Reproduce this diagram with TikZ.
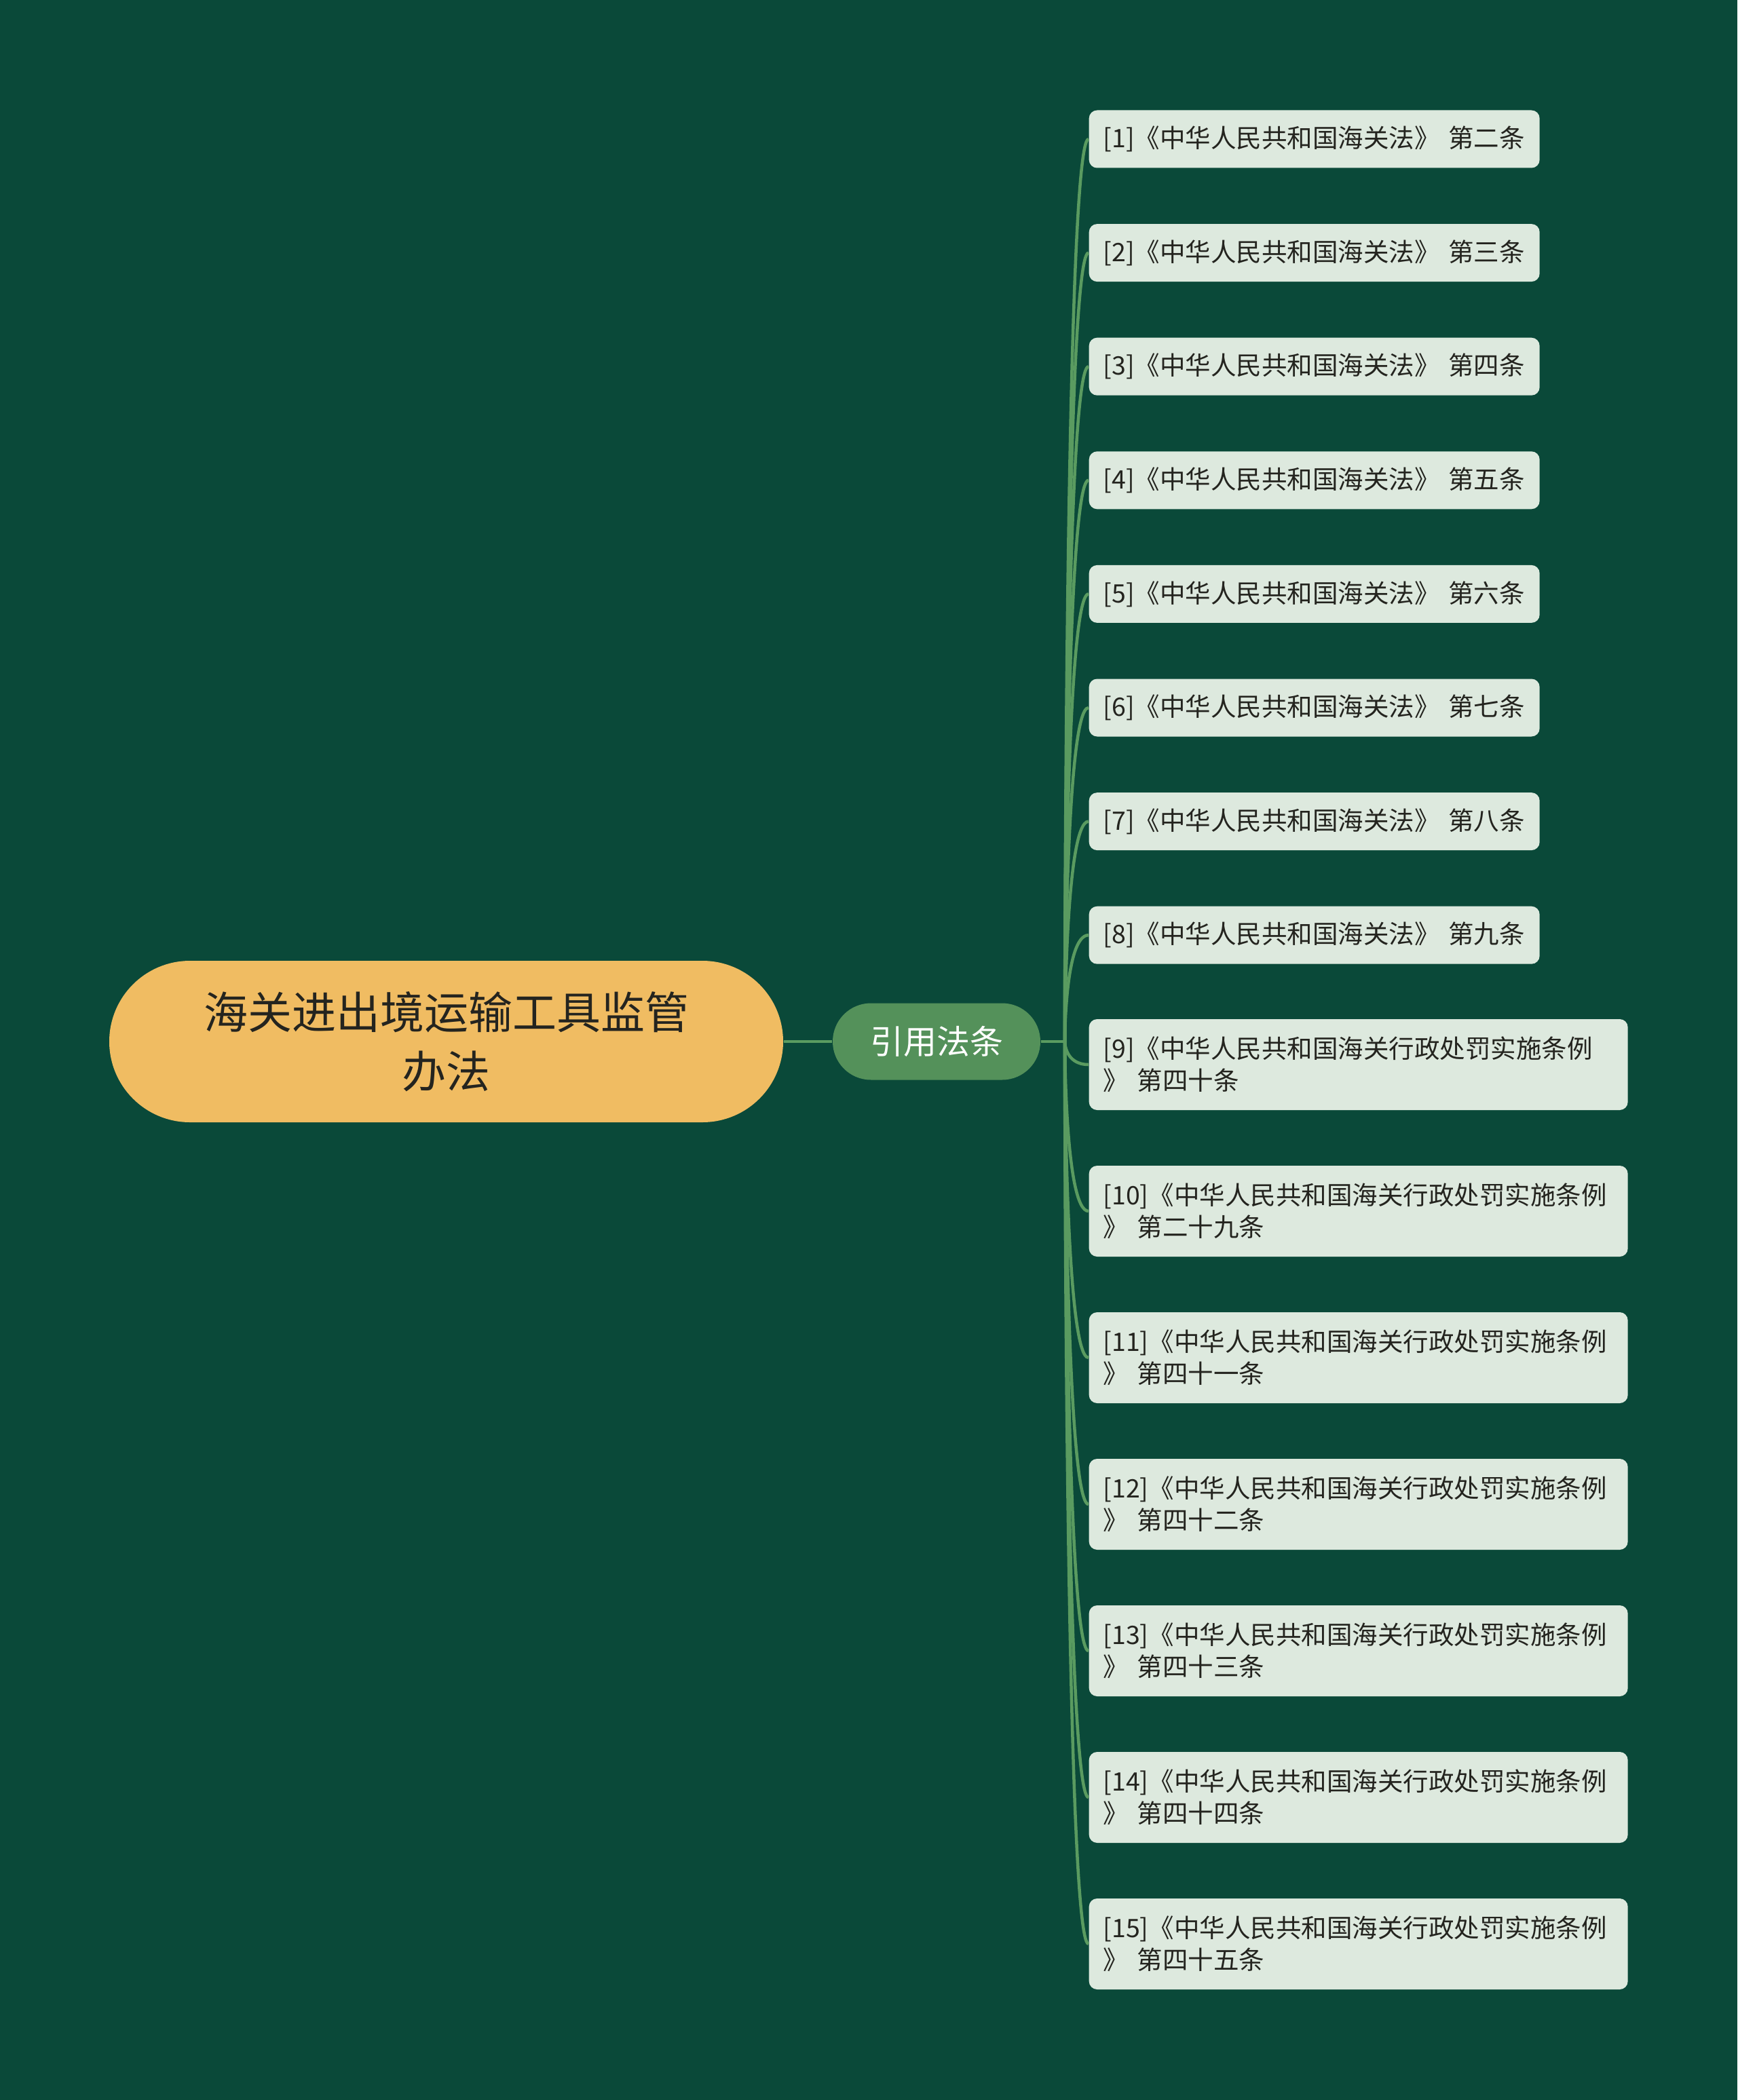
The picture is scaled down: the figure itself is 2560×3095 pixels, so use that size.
\documentclass[tikz,border=0pt]{standalone}
\usepackage{fontspec}
\newfontfamily\cjk{Noto Sans CJK SC}
\definecolor{bgdark}{HTML}{0A4939}
\definecolor{rootfill}{HTML}{F0BC62}
\definecolor{midfill}{HTML}{54915A}
\definecolor{leaffill}{HTML}{DDE9DE}
\definecolor{linkgreen}{HTML}{5A9B60}
\definecolor{darktext}{HTML}{24241F}
\tikzset{
  rootbox/.style={fill=rootfill,text=darktext,rounded corners=35.7pt,minimum width=297.9pt,minimum height=71.4pt,align=center,font=\cjk\fontsize{19.5}{26.1}\selectfont},
  midbox/.style={fill=midfill,text=white,rounded corners=16.9pt,minimum width=91.8pt,minimum height=33.9pt,font=\cjk\fontsize{14.7}{18}\selectfont},
  leaf/.style={fill=leaffill,text=darktext,rounded corners=3.6pt,anchor=west,align=left,text width=186.6pt,inner xsep=6.3pt,inner ysep=0pt,minimum height=25.5pt,font=\cjk\fontsize{11.25}{14.2}\selectfont},
  longleaf/.style={leaf,text width=225.6pt,minimum height=40.2pt},
  link/.style={draw=linkgreen,line width=1.35pt}
}
\begin{document}
\begin{tikzpicture}[x=0.3pt,y=-0.3pt]
\def\tx{1569}
\def\lx{1604}
\fill[bgdark] (0,0) rectangle (2560,3095);
\useasboundingbox (0,0) rectangle (2560,3095);
% root and middle
\node[rootbox] (root) at (657.5,1535) {海关进出境运输工具监管\\办法};
\node[midbox] (cite) at (1380,1535) {引用法条};
\coordinate (trunk) at (\tx,1535);
% leaves
\node[leaf] (l1) at (\lx,205) {[1]《中华人民共和国海关法》~第二条};
\node[leaf] (l2) at (\lx,372.6) {[2]《中华人民共和国海关法》~第三条};
\node[leaf] (l3) at (\lx,540.2) {[3]《中华人民共和国海关法》~第四条};
\node[leaf] (l4) at (\lx,707.8) {[4]《中华人民共和国海关法》~第五条};
\node[leaf] (l5) at (\lx,875.4) {[5]《中华人民共和国海关法》~第六条};
\node[leaf] (l6) at (\lx,1043) {[6]《中华人民共和国海关法》~第七条};
\node[leaf] (l7) at (\lx,1210.6) {[7]《中华人民共和国海关法》~第八条};
\node[leaf] (l8) at (\lx,1378.2) {[8]《中华人民共和国海关法》~第九条};
\node[longleaf] (l9) at (\lx,1569) {[9]《中华人民共和国海关行政处罚实施条例\\》 第四十条};
\node[longleaf] (l10) at (\lx,1785) {[10]《中华人民共和国海关行政处罚实施条例\\》 第二十九条};
\node[longleaf] (l11) at (\lx,2001) {[11]《中华人民共和国海关行政处罚实施条例\\》 第四十一条};
\node[longleaf] (l12) at (\lx,2217) {[12]《中华人民共和国海关行政处罚实施条例\\》 第四十二条};
\node[longleaf] (l13) at (\lx,2433) {[13]《中华人民共和国海关行政处罚实施条例\\》 第四十三条};
\node[longleaf] (l14) at (\lx,2649) {[14]《中华人民共和国海关行政处罚实施条例\\》 第四十四条};
\node[longleaf] (l15) at (\lx,2865) {[15]《中华人民共和国海关行政处罚实施条例\\》 第四十五条};
% links
\draw[link] (root) -- (cite);
\draw[link] (cite) -- (trunk);
\draw[link] (trunk) .. controls (trunk) and (trunk |- l1.west) .. (l1.west);
\draw[link] (trunk) .. controls (trunk) and (trunk |- l2.west) .. (l2.west);
\draw[link] (trunk) .. controls (trunk) and (trunk |- l3.west) .. (l3.west);
\draw[link] (trunk) .. controls (trunk) and (trunk |- l4.west) .. (l4.west);
\draw[link] (trunk) .. controls (trunk) and (trunk |- l5.west) .. (l5.west);
\draw[link] (trunk) .. controls (trunk) and (trunk |- l6.west) .. (l6.west);
\draw[link] (trunk) .. controls (trunk) and (trunk |- l7.west) .. (l7.west);
\draw[link] (trunk) .. controls (trunk) and (trunk |- l8.west) .. (l8.west);
\draw[link] (trunk) .. controls (trunk) and (trunk |- l9.west) .. (l9.west);
\draw[link] (trunk) .. controls (trunk) and (trunk |- l10.west) .. (l10.west);
\draw[link] (trunk) .. controls (trunk) and (trunk |- l11.west) .. (l11.west);
\draw[link] (trunk) .. controls (trunk) and (trunk |- l12.west) .. (l12.west);
\draw[link] (trunk) .. controls (trunk) and (trunk |- l13.west) .. (l13.west);
\draw[link] (trunk) .. controls (trunk) and (trunk |- l14.west) .. (l14.west);
\draw[link] (trunk) .. controls (trunk) and (trunk |- l15.west) .. (l15.west);
\end{tikzpicture}
\end{document}
